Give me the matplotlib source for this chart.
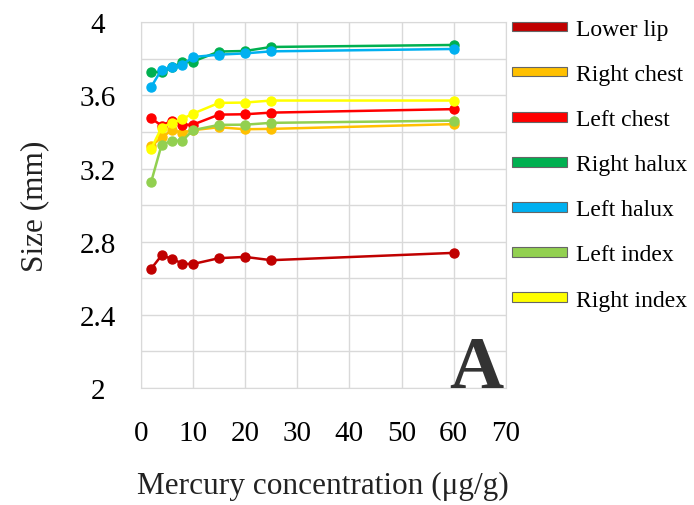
import matplotlib
matplotlib.use("Agg")
import matplotlib.pyplot as plt
from matplotlib.patches import Patch

plt.rcParams["font.family"] = ["Liberation Serif", "DejaVu Serif"]

# Mercury concentration (ug/g)
conc = [2, 4, 6, 8, 10, 15, 20, 25, 60]

lower_lip = [2.652, 2.725, 2.707, 2.680, 2.678, 2.710, 2.717, 2.699, 2.739]
right_chest = [3.322, 3.370, 3.410, 3.397, 3.410, 3.426, 3.415, 3.417, 3.443]
left_chest = [3.475, 3.435, 3.462, 3.440, 3.440, 3.495, 3.497, 3.506, 3.525]
right_halux = [3.730, 3.727, 3.754, 3.781, 3.785, 3.840, 3.843, 3.865, 3.876]
left_halux = [3.646, 3.741, 3.754, 3.767, 3.810, 3.823, 3.830, 3.841, 3.854]
left_index = [3.126, 3.329, 3.353, 3.352, 3.410, 3.439, 3.440, 3.450, 3.462]
right_index = [3.308, 3.424, 3.450, 3.472, 3.500, 3.559, 3.561, 3.572, 3.572]

names = ["Lower lip", "Right chest", "Left chest", "Right halux",
         "Left halux", "Left index", "Right index"]
series = [lower_lip, right_chest, left_chest, right_halux,
          left_halux, left_index, right_index]
colors = ["#C00000", "#FFC000", "#FF0000", "#00B050",
          "#00B0F0", "#92D050", "#FFFF00"]

yticks = [2.0, 2.2, 2.4, 2.6, 2.8, 3.0, 3.2, 3.4, 3.6, 3.8, 4.0]
ytick_labels = ["2", "", "2.4", "", "2.8", "", "3.2", "", "3.6", "", "4"]
xticks = [0, 10, 20, 30, 40, 50, 60, 70]

fig = plt.figure(figsize=(6.94, 5.06), dpi=100)
ax = fig.add_axes([0.2027, 0.2312, 0.5263, 0.7228])

for name, vals, c in zip(names, series, colors):
    ax.plot(conc, vals, color=c, lw=1.8, marker="o", ms=6.5, mec=c, mfc=c)

ax.set_xlim(0, 70)
ax.set_ylim(2, 4)
ax.set_xticks(xticks)
ax.set_yticks(yticks)
ax.set_yticklabels(ytick_labels)
ax.grid(True, color="#D9D9D9", lw=1.0)
ax.set_axisbelow(True)
for s in ax.spines.values():
    s.set_color("#D9D9D9")
ax.tick_params(length=0, labelsize=21)
ax.tick_params(axis="x", pad=23)
ax.tick_params(axis="y", pad=31)
for lab in ax.get_yticklabels():
    lab.set_horizontalalignment("center")

ax.set_xlabel("Mercury concentration (\u03bcg/g)", fontsize=22.5, labelpad=18,
              color="#222222")
ax.set_ylabel("Size (mm)", fontsize=22.5, labelpad=22, color="#222222")

ax.text(0.993, 0.004, "A", transform=ax.transAxes, ha="right", va="baseline",
        fontsize=54, fontweight="bold", color="#333333")

handles = [Patch(facecolor=c, edgecolor="#666666", lw=0.8) for c in colors]
fig.legend(handles, names, loc="upper left", bbox_to_anchor=(0.7235, 0.979),
           frameon=False, fontsize=17, handlelength=2.35, handleheight=0.25,
           handletextpad=0.4, labelspacing=1.02, borderaxespad=0.0)

fig.savefig("out.png", dpi=100)
